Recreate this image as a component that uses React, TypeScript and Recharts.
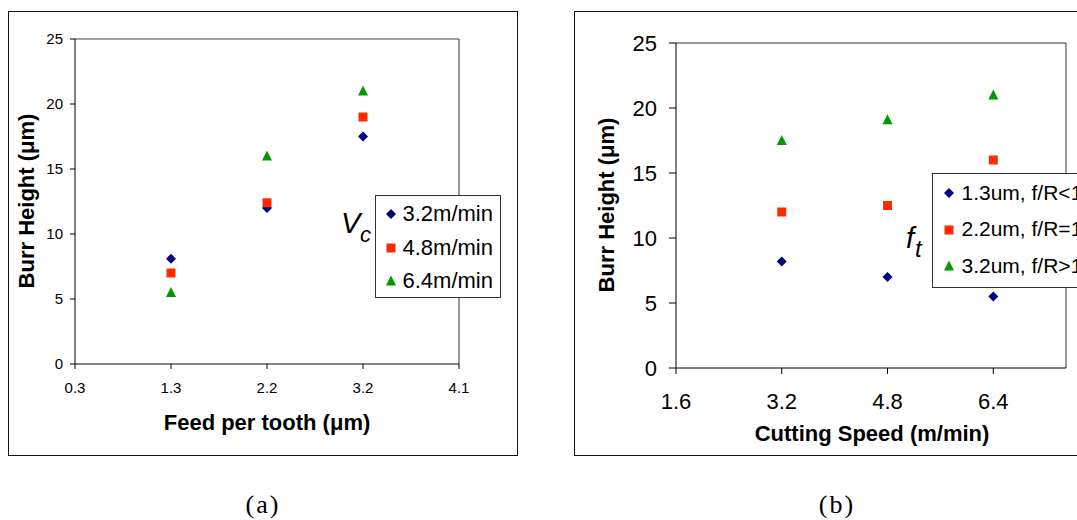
import React from 'react';
import { ScatterChart, Scatter, XAxis, YAxis, ReferenceLine, Legend } from 'recharts';

const FONT = '"Liberation Sans", Arial, Helvetica, sans-serif';
const SERIF = '"Liberation Serif", "Times New Roman", serif';

// (a) burr height vs feed per tooth, one series per cutting speed
const feedTickLabels = ['0.3', '1.3', '2.2', '3.2', '4.1'];
const feedCategories = ['1.3', '2.2', '3.2'];
const vc32 = [8.1, 12.0, 17.5];
const vc48 = [7.0, 12.4, 19.0];
const vc64 = [5.5, 16.0, 21.0];

// (b) burr height vs cutting speed, one series per feed
const speedTicks = [1.6, 3.2, 4.8, 6.4];
const speedValues = [3.2, 4.8, 6.4];
const ft13 = [8.2, 7.0, 5.5];
const ft22 = [12.0, 12.5, 16.0];
const ft32 = [17.5, 19.1, 21.0];

const heightTicks = [0, 5, 10, 15, 20, 25];

const NAVY = '#000080';
const RED = '#FF2A00';
const GREEN = '#009900';

const feedData = (vals: number[]) =>
  feedCategories.map((c, i) => ({ x: feedTickLabels.indexOf(c), y: vals[i] }));
const speedData = (vals: number[]) => speedValues.map((s, i) => ({ x: s, y: vals[i] }));

function Marker({ type, cx, cy, color }: any) {
  if (type === 'diamond') {
    return <path d={`M${cx},${cy - 5}L${cx + 5},${cy}L${cx},${cy + 5}L${cx - 5},${cy}Z`} fill={color} />;
  }
  if (type === 'square') {
    return <rect x={cx - 4.5} y={cy - 4.5} width={9} height={9} fill={color} />;
  }
  return <path d={`M${cx},${cy - 5.5}L${cx + 5},${cy + 4.5}L${cx - 5},${cy + 4.5}Z`} fill={color} />;
}

const shapeOf = (type: string, color: string) => (p: any) =>
  <Marker type={type} cx={p.cx} cy={p.cy} color={color} />;

function BoxLegend({ payload, width, height, padTop, rowH, markX, textX, fontSize }: any) {
  return (
    <div
      style={{
        width,
        height,
        boxSizing: 'border-box',
        border: '1.5px solid #333',
        background: '#fff',
        position: 'relative',
        fontFamily: FONT,
        fontSize,
        color: '#000',
      }}
    >
      {(payload || []).map((e: any, i: number) => (
        <div key={i} style={{ position: 'absolute', left: 0, top: padTop + i * rowH, height: rowH, width: '100%' }}>
          <svg width={14} height={14} style={{ position: 'absolute', left: markX - 7, top: rowH / 2 - 7 }}>
            <Marker type={e.type} cx={7} cy={7} color={e.color} />
          </svg>
          <span style={{ position: 'absolute', left: textX, top: 0, lineHeight: rowH + 'px', whiteSpace: 'nowrap' }}>
            {e.value}
          </span>
        </div>
      ))}
    </div>
  );
}

const abs = (left: number, top: number, extra: React.CSSProperties = {}): React.CSSProperties => ({
  position: 'absolute',
  left,
  top,
  ...extra,
});

function Title({ text, cx, cy, vertical }: { text: string; cx: number; cy: number; vertical?: boolean }) {
  return (
    <div
      style={{
        position: 'absolute',
        left: cx,
        top: cy,
        transform: `translate(-50%, -50%)${vertical ? ' rotate(-90deg)' : ''}`,
        fontFamily: FONT,
        fontWeight: 'bold',
        fontSize: 22,
        lineHeight: 1,
        whiteSpace: 'nowrap',
        color: '#000',
      }}
    >
      {text}
    </div>
  );
}

export default function App() {
  const axisStyle = { stroke: '#000', strokeWidth: 1 };
  return (
    <div style={abs(0, 0, { width: 1077, height: 520, overflow: 'hidden', background: '#fff' })}>
      {/* frames */}
      <div style={abs(8, 11, { width: 510, height: 445, border: '1.5px solid #111', boxSizing: 'border-box' })} />
      <div style={abs(574, 11, { width: 540, height: 445, border: '1.5px solid #111', boxSizing: 'border-box' })} />

      {/* (a) */}
      <div style={abs(0, 0)}>
        <ScatterChart width={530} height={460} margin={{ top: 39, right: 71, bottom: 56, left: 35 }}>
          <XAxis
            type="number"
            dataKey="x"
            domain={[0, 4]}
            ticks={[0, 1, 2, 3, 4]}
            interval={0}
            tickFormatter={(v: number) => feedTickLabels[v]}
            height={40}
            tickSize={5}
            tickMargin={13}
            axisLine={axisStyle}
            tickLine={axisStyle}
            tick={{ fill: '#000', fontSize: 15, fontFamily: FONT }}
          />
          <YAxis
            type="number"
            dataKey="y"
            domain={[0, 25]}
            ticks={heightTicks}
            interval={0}
            width={40}
            tickSize={5}
            tickMargin={7}
            axisLine={axisStyle}
            tickLine={axisStyle}
            tick={{ fill: '#000', fontSize: 15, fontFamily: FONT }}
          />
          <ReferenceLine y={25} stroke="#808080" strokeWidth={1.5} />
          <ReferenceLine x={4} stroke="#333" strokeWidth={1} />
          <Legend
            layout="horizontal"
            verticalAlign="middle"
            align="center"
            wrapperStyle={{ left: 375, top: 195, width: 126, height: 103 }}
            content={(p: any) => (
              <BoxLegend payload={p.payload} width={126} height={103} padTop={1} rowH={33.7} markX={14.5} textX={26.5} fontSize={22} />
            )}
          />
          <Scatter name="3.2m/min" data={feedData(vc32)} fill={NAVY} legendType="diamond" shape={shapeOf('diamond', NAVY)} isAnimationActive={false} />
          <Scatter name="4.8m/min" data={feedData(vc48)} fill={RED} legendType="square" shape={shapeOf('square', RED)} isAnimationActive={false} />
          <Scatter name="6.4m/min" data={feedData(vc64)} fill={GREEN} legendType="triangle" shape={shapeOf('triangle', GREEN)} isAnimationActive={false} />
        </ScatterChart>
      </div>

      {/* (b) */}
      <div style={abs(570, 0)}>
        <ScatterChart width={507} height={460} margin={{ top: 43, right: 11, bottom: 52, left: 56 }}>
          <XAxis
            type="number"
            dataKey="x"
            domain={[1.6, 7.5]}
            ticks={speedTicks}
            interval={0}
            tickFormatter={(v: number) => v.toFixed(1)}
            height={40}
            tickSize={6}
            tickMargin={19}
            axisLine={axisStyle}
            tickLine={axisStyle}
            tick={{ fill: '#000', fontSize: 22, fontFamily: FONT }}
          />
          <YAxis
            type="number"
            dataKey="y"
            domain={[0, 25]}
            ticks={heightTicks}
            interval={0}
            width={50}
            tickSize={7}
            tickMargin={12}
            axisLine={axisStyle}
            tickLine={axisStyle}
            tick={{ fill: '#000', fontSize: 22, fontFamily: FONT }}
          />
          <ReferenceLine y={25} stroke="#333" strokeWidth={1} />
          <ReferenceLine x={7.5} stroke="#333" strokeWidth={1} />
          <Legend
            layout="horizontal"
            verticalAlign="middle"
            align="center"
            wrapperStyle={{ left: 362, top: 173, width: 200, height: 115 }}
            content={(p: any) => (
              <BoxLegend payload={p.payload} width={200} height={115} padTop={0.5} rowH={36.7} markX={15.5} textX={28.5} fontSize={21} />
            )}
          />
          <Scatter name="1.3um, f/R<1" data={speedData(ft13)} fill={NAVY} legendType="diamond" shape={shapeOf('diamond', NAVY)} isAnimationActive={false} />
          <Scatter name="2.2um, f/R=1" data={speedData(ft22)} fill={RED} legendType="square" shape={shapeOf('square', RED)} isAnimationActive={false} />
          <Scatter name="3.2um, f/R>1" data={speedData(ft32)} fill={GREEN} legendType="triangle" shape={shapeOf('triangle', GREEN)} isAnimationActive={false} />
        </ScatterChart>
      </div>

      {/* axis titles */}
      <Title text="Burr Height (μm)" cx={26.5} cy={201} vertical />
      <Title text="Feed per tooth (μm)" cx={267} cy={423} />
      <Title text="Burr Height (μm)" cx={607} cy={205} vertical />
      <Title text="Cutting Speed (m/min)" cx={872} cy={434} />

      {/* series group labels */}
      <div style={abs(341, 208.5, { fontFamily: FONT, fontStyle: 'italic', fontSize: 29, lineHeight: 1 })}>V</div>
      <div style={abs(360, 223.5, { fontFamily: FONT, fontStyle: 'italic', fontSize: 22, lineHeight: 1 })}>c</div>
      <div style={abs(906, 223.5, { fontFamily: FONT, fontStyle: 'italic', fontSize: 29, lineHeight: 1 })}>f</div>
      <div style={abs(915, 236.5, { fontFamily: FONT, fontStyle: 'italic', fontSize: 24, lineHeight: 1 })}>t</div>

      {/* captions */}
      <div style={abs(263, 492, { transform: 'translateX(-50%)', fontFamily: SERIF, fontSize: 26, lineHeight: 1, letterSpacing: 2 })}>(a)</div>
      <div style={abs(837, 492, { transform: 'translateX(-50%)', fontFamily: SERIF, fontSize: 26, lineHeight: 1, letterSpacing: 2 })}>(b)</div>
    </div>
  );
}
